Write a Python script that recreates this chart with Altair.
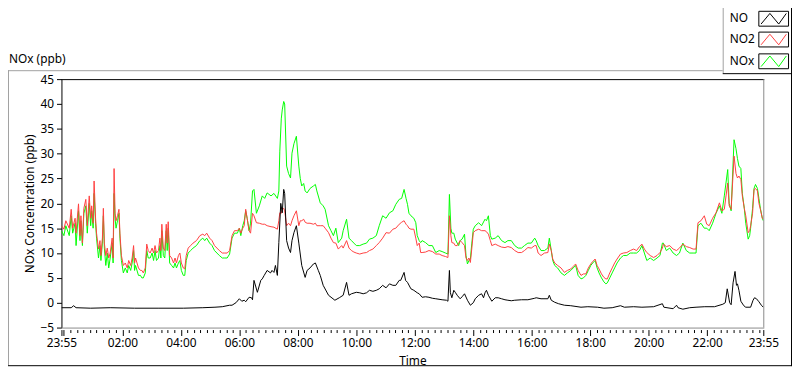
import altair as alt
import pandas as pd

# ---------------- data ----------------
START = pd.Timestamp("2000-01-01 23:55")

# minutes after 23:55 and values (ppb)
NOX_MIN = [0, 5, 9, 16, 20, 23, 28, 30, 35, 38, 40, 43, 46, 50, 53, 57, 60, 62, 65, 67, 70, 72, 76, 79, 81, 84, 86, 88, 91, 94, 97, 100, 104, 106, 108, 110, 112, 115, 118, 120, 123, 127, 131, 135, 138, 142, 145, 148, 150, 152, 158, 162, 165, 168, 172, 175, 178, 182, 186, 189, 192, 195, 199, 202, 204, 206, 209, 212, 215, 217, 219, 222, 226, 230, 233, 236, 240, 243, 246, 250, 253, 256, 260, 265, 270, 277, 284, 290, 294, 298, 304, 309, 314, 319, 324, 330, 334, 340, 345, 350, 355, 361, 365, 368, 372, 375, 378, 381, 385, 388, 392, 395, 400, 406, 412, 417, 422, 430, 436, 443, 446, 448, 451, 453, 456, 458, 462, 466, 470, 473, 477, 482, 487, 490, 493, 497, 500, 504, 510, 517, 521, 524, 531, 537, 541, 548, 553, 558, 563, 568, 575, 578, 585, 590, 595, 600, 605, 612, 619, 626, 632, 639, 646, 652, 659, 666, 673, 680, 686, 693, 698, 703, 707, 710, 713, 717, 723, 727, 730, 734, 737, 740, 747, 754, 761, 768, 775, 781, 788, 793, 796, 799, 801, 805, 808, 812, 815, 818, 822, 827, 830, 833, 836, 839, 842, 845, 849, 856, 862, 869, 872, 876, 880, 883, 890, 896, 903, 910, 916, 923, 930, 937, 944, 950, 957, 964, 971, 974, 978, 984, 991, 998, 1001, 1005, 1008, 1012, 1018, 1025, 1032, 1038, 1045, 1050, 1055, 1060, 1066, 1071, 1076, 1081, 1086, 1090, 1095, 1099, 1103, 1108, 1113, 1117, 1120, 1125, 1130, 1135, 1140, 1147, 1153, 1160, 1167, 1174, 1180, 1186, 1191, 1196, 1201, 1208, 1215, 1222, 1228, 1233, 1235, 1241, 1248, 1255, 1262, 1268, 1275, 1282, 1289, 1296, 1302, 1306, 1312, 1319, 1324, 1329, 1336, 1343, 1350, 1355, 1360, 1367, 1370, 1374, 1380, 1384, 1387, 1390, 1394, 1397, 1401, 1404, 1409, 1412, 1414, 1418, 1421, 1424, 1428, 1431, 1434, 1438, 1440]
NOX_VAL = [14.5, 13.5, 15.5, 13.5, 17.5, 14.0, 16.0, 11.5, 18.5, 12.5, 16.5, 11.5, 18.0, 19.5, 14.0, 20.0, 15.5, 18.5, 15.0, 22.0, 16.0, 13.0, 9.0, 11.5, 8.5, 12.0, 17.5, 11.0, 7.5, 10.0, 7.0, 9.0, 12.0, 8.0, 22.0, 17.0, 15.0, 16.5, 18.0, 13.0, 8.5, 6.0, 7.0, 6.0, 7.5, 6.5, 8.0, 10.5, 6.5, 7.5, 5.5, 5.5, 5.0, 5.0, 6.0, 10.5, 9.0, 9.0, 10.0, 8.5, 10.5, 8.5, 9.0, 11.5, 9.0, 14.5, 9.5, 9.0, 14.5, 10.5, 15.0, 8.0, 7.5, 7.0, 8.0, 7.0, 8.0, 8.5, 6.5, 5.5, 5.5, 8.5, 10.0, 10.5, 11.0, 11.5, 12.5, 13.0, 12.5, 13.0, 12.0, 11.5, 10.5, 10.0, 9.5, 9.0, 9.0, 9.0, 9.8, 13.0, 14.0, 14.0, 15.0, 13.5, 15.5, 16.5, 18.5, 17.0, 14.5, 16.0, 22.5, 22.8, 18.0, 19.5, 21.5, 21.0, 22.1, 21.5, 22.0, 21.0, 22.5, 30.5, 37.0, 38.8, 40.5, 40.0, 27.5, 26.0, 25.1, 30.1, 32.0, 33.5, 27.5, 25.0, 23.5, 24.0, 22.5, 22.1, 23.0, 23.5, 23.8, 22.5, 20.1, 19.5, 18.8, 15.5, 14.5, 13.5, 15.0, 12.1, 13.0, 14.5, 16.8, 13.0, 12.5, 12.0, 11.5, 11.5, 11.8, 12.0, 12.8, 13.0, 13.5, 15.5, 17.5, 17.0, 18.1, 18.5, 19.8, 20.8, 21.0, 22.8, 21.0, 19.8, 18.0, 17.5, 17.0, 16.1, 13.5, 12.5, 12.1, 12.5, 12.1, 11.5, 11.5, 10.1, 10.5, 10.3, 10.0, 9.8, 21.8, 15.0, 14.0, 14.0, 12.8, 12.0, 11.5, 12.5, 12.8, 13.8, 9.5, 7.8, 8.5, 8.8, 12.0, 14.8, 15.5, 16.1, 15.5, 16.8, 16.5, 17.5, 13.5, 12.8, 13.0, 13.5, 12.5, 12.1, 12.5, 12.5, 11.5, 11.0, 11.0, 11.5, 12.0, 12.0, 13.0, 12.5, 11.5, 10.5, 10.5, 11.0, 13.0, 10.5, 8.5, 7.5, 7.0, 6.0, 5.5, 6.0, 6.5, 7.0, 7.5, 5.5, 4.8, 5.0, 5.5, 6.5, 7.5, 8.0, 8.5, 7.0, 6.0, 5.0, 4.2, 3.8, 4.0, 5.0, 6.0, 7.0, 8.0, 9.0, 9.5, 9.5, 10.0, 10.0, 10.0, 10.5, 11.5, 10.0, 8.5, 9.0, 8.5, 9.0, 9.5, 12.0, 12.0, 10.5, 11.0, 10.0, 9.5, 10.0, 12.0, 10.5, 10.0, 10.0, 10.0, 15.5, 16.0, 15.0, 15.0, 14.5, 16.0, 18.0, 19.5, 18.0, 21.5, 26.8, 20.0, 18.5, 32.8, 31.0, 29.0, 27.5, 27.0, 22.0, 19.0, 16.0, 12.8, 13.5, 15.0, 19.0, 23.0, 23.8, 23.0, 21.0, 19.0, 17.0, 16.5]

NO2_MIN = NOX_MIN
NO2_VAL = [15.5, 14.8, 16.5, 15.0, 18.8, 15.0, 17.0, 14.0, 19.9, 13.5, 17.5, 12.0, 19.0, 20.8, 15.5, 21.5, 17.0, 19.5, 16.0, 24.5, 17.0, 14.0, 10.8, 12.5, 9.5, 13.0, 19.0, 12.0, 9.5, 11.0, 9.0, 10.0, 13.0, 9.0, 27.0, 18.0, 16.5, 17.5, 18.8, 14.0, 9.5, 7.5, 8.0, 7.0, 8.5, 7.5, 9.0, 11.5, 8.0, 9.0, 7.0, 6.5, 6.5, 6.0, 7.0, 11.8, 10.5, 10.0, 11.0, 10.0, 11.5, 10.0, 10.5, 13.0, 10.5, 15.8, 11.0, 10.5, 15.8, 12.0, 16.3, 9.5, 9.0, 8.0, 9.0, 8.0, 9.5, 10.0, 8.0, 7.0, 6.8, 9.5, 11.0, 11.5, 12.0, 12.5, 13.5, 13.8, 13.5, 14.0, 13.0, 12.5, 11.5, 11.0, 10.5, 10.0, 10.0, 10.0, 10.5, 13.5, 14.5, 14.5, 15.0, 14.0, 15.0, 15.5, 18.8, 17.0, 14.5, 14.0, 18.0, 17.5, 16.1, 16.0, 15.8, 15.8, 15.5, 15.3, 15.2, 14.8, 16.5, 18.1, 18.0, 18.8, 19.0, 18.5, 15.5, 16.0, 15.5, 16.5, 17.5, 18.5, 15.5, 16.5, 16.5, 16.8, 16.2, 16.0, 16.0, 15.8, 16.0, 15.5, 15.5, 15.5, 15.0, 14.1, 13.0, 12.1, 12.0, 10.8, 11.5, 11.0, 12.5, 11.0, 10.5, 10.2, 10.0, 9.8, 10.0, 10.1, 10.5, 10.8, 11.5, 12.1, 13.0, 14.1, 14.0, 14.8, 15.0, 15.8, 16.2, 16.5, 15.8, 15.5, 15.0, 14.8, 14.8, 13.0, 11.5, 12.0, 10.1, 10.1, 10.2, 10.5, 10.3, 9.8, 9.8, 9.5, 9.3, 9.1, 17.5, 13.5, 12.1, 12.0, 11.5, 11.5, 12.0, 12.5, 12.1, 11.5, 9.0, 8.5, 9.0, 8.1, 11.0, 14.1, 14.5, 14.8, 14.5, 14.5, 14.3, 13.8, 12.5, 11.5, 11.8, 11.5, 11.2, 11.1, 11.3, 11.1, 10.5, 10.1, 10.1, 10.5, 11.1, 11.0, 11.5, 11.5, 10.0, 9.5, 10.0, 10.1, 11.8, 10.5, 8.8, 8.0, 7.5, 7.0, 6.1, 6.5, 6.8, 7.3, 7.8, 6.5, 5.5, 5.8, 5.8, 7.0, 7.8, 8.3, 8.8, 7.5, 6.8, 5.8, 5.1, 4.8, 4.8, 6.0, 7.0, 8.0, 8.8, 9.8, 10.0, 10.1, 10.5, 10.8, 10.5, 11.3, 11.8, 10.8, 10.1, 9.5, 9.1, 9.5, 10.1, 11.0, 11.8, 11.3, 11.5, 10.8, 10.5, 11.0, 11.8, 11.3, 11.1, 10.8, 10.8, 16.1, 16.5, 17.5, 15.8, 15.5, 17.0, 18.1, 20.1, 18.5, 18.8, 24.1, 19.5, 18.8, 29.5, 26.0, 25.1, 25.5, 24.8, 21.5, 19.0, 17.5, 14.1, 14.5, 15.5, 18.0, 22.8, 23.0, 22.5, 20.0, 18.8, 17.0, 16.8]

NO_MIN = [0, 20, 25, 30, 60, 100, 150, 200, 250, 290, 315, 330, 345, 350, 358, 365, 370, 375, 378, 385, 390, 392, 395, 402, 409, 412, 416, 422, 429, 432, 436, 439, 443, 446, 450, 453, 456, 458, 462, 466, 470, 473, 477, 482, 487, 493, 500, 504, 510, 517, 521, 527, 531, 537, 548, 561, 570, 578, 585, 590, 595, 605, 612, 619, 626, 632, 639, 646, 652, 659, 666, 673, 680, 686, 693, 696, 703, 706, 710, 717, 723, 730, 734, 740, 747, 754, 761, 768, 781, 790, 793, 796, 798, 801, 805, 808, 812, 818, 822, 827, 833, 839, 845, 849, 856, 862, 866, 869, 872, 876, 883, 890, 896, 903, 910, 916, 923, 930, 944, 957, 971, 974, 984, 998, 1001, 1005, 1012, 1020, 1032, 1045, 1066, 1080, 1100, 1113, 1130, 1147, 1155, 1174, 1191, 1215, 1233, 1236, 1255, 1262, 1265, 1275, 1289, 1302, 1320, 1340, 1357, 1362, 1366, 1371, 1374, 1378, 1382, 1385, 1387, 1390, 1394, 1400, 1404, 1414, 1419, 1422, 1426, 1431, 1436, 1440]
NO_VAL = [-1.0, -1.0, -0.6, -1.0, -1.1, -1.0, -1.1, -1.1, -1.1, -1.0, -0.9, -0.8, -0.5, -0.5, 0.0, 0.8, 0.3, 0.5, 0.2, 1.1, 1.0, 0.6, 4.5, 2.1, 4.5, 4.8, 5.5, 6.5, 6.0, 6.5, 6.1, 7.5, 5.5, 12.1, 20.0, 18.1, 22.8, 22.0, 12.5, 11.0, 10.1, 12.5, 14.1, 15.5, 12.0, 7.5, 5.1, 6.5, 7.0, 7.8, 8.0, 6.5, 5.5, 3.5, 1.5, 0.5, 1.0, 1.5, 4.1, 1.5, 1.8, 2.1, 2.0, 1.8, 2.0, 2.5, 2.3, 2.5, 2.8, 3.5, 3.0, 3.8, 3.5, 3.5, 4.5, 4.5, 6.1, 4.5, 4.1, 2.8, 2.5, 2.0, 1.8, 1.1, 1.2, 1.1, 0.9, 0.8, 0.6, 0.5, 0.3, 6.5, 2.0, 1.0, 2.5, 2.1, 1.5, 0.8, 1.2, 1.8, 0.5, -0.5, 0.0, 0.8, 1.5, 1.8, 1.0, 2.0, 2.5, 1.5, 0.3, 1.0, 1.0, 0.8, 0.6, 0.5, 0.4, 0.5, 0.6, 0.6, 0.9, 1.0, 0.8, 0.8, 1.5, 0.5, 0.1, -0.2, -0.5, -0.6, -0.9, -0.8, -0.9, -1.1, -1.0, -0.6, -0.9, -0.8, -0.9, -0.8, -0.2, -0.9, -1.2, -0.5, -1.0, -1.3, -1.0, -0.9, -0.8, -0.8, -0.3, 0.0, 2.8, 0.0, -0.4, 4.0, 6.3, 3.5, 3.8, 2.5, 0.3, -0.6, -0.9, -0.9, 0.5, 1.0, 0.8, 0.2, -0.5, -0.9]

SERIES = ["NO", "NO2", "NOx"]
COLORS = ["#000000", "#ff4040", "#00ff00"]
Y_TICKS = [-5, 0, 5, 10, 15, 20, 25, 30, 35, 40, 45]
TITLE = "NOx (ppb)"
Y_TITLE = "NOx Concentration (ppb)"
X_TITLE = "Time"

FONT = "Noto Sans"


def frame(mins, vals):
    return pd.DataFrame({"time": START + pd.to_timedelta(mins, unit="min"), "value": vals})


def dt(ts):
    return alt.DateTime(year=ts.year, month=ts.month, date=ts.day,
                        hours=ts.hour, minutes=ts.minute, seconds=ts.second)


END = START + pd.Timedelta(minutes=1440)
tick_times = [START] + list(pd.date_range(START + pd.Timedelta(minutes=5),
                                          END - pd.Timedelta(minutes=5), freq="800s")) + [END]
MAJOR = ("(hours(datum.value) % 2 == 0 && minutes(datum.value) == 0 && seconds(datum.value) == 0)"
         " || minutes(datum.value) == 55")
LABELED = ("(hours(datum.value) % 2 == 0 && hours(datum.value) > 0 && minutes(datum.value) == 0"
           " && seconds(datum.value) == 0) || minutes(datum.value) == 55")

x_enc = alt.X(
    "time:T",
    scale=alt.Scale(domain=[dt(START), dt(END)], nice=False),
    axis=alt.Axis(
        values=[dt(t) for t in tick_times],
        labelExpr=f"({LABELED}) ? timeFormat(datum.value, '%H:%M') : ''",
        tickSize={"condition": {"test": MAJOR, "value": 6}, "value": 3},
        labelOverlap=False,
        labelFlush=False,
        domain=False,
        offset=2,
        grid=False,
        labelPadding=2,
        titlePadding=7,
        tickColor="#000000",
    ),
    title=X_TITLE,
)
y_enc = alt.Y(
    "value:Q",
    scale=alt.Scale(domain=[-5, 45], nice=False, zero=False),
    axis=alt.Axis(values=Y_TICKS, tickSize=5, labelPadding=3, grid=False, labelFlush=False,
                  domainColor="#000000", tickColor="#000000", titlePadding=4),
    title=Y_TITLE,
)

W, H = 709, 251

lines = []
for mins, vals, col in [(NOX_MIN, NOX_VAL, COLORS[2]), (NO2_MIN, NO2_VAL, COLORS[1]), (NO_MIN, NO_VAL, COLORS[0])]:
    lines.append(
        alt.Chart(frame(mins, vals)).mark_line(color=col, strokeWidth=1, clip=True).encode(x=x_enc, y=y_enc)
    )

one = pd.DataFrame({"k": [0]})


def hrule(x1, x2, y, color):
    return alt.Chart(one).mark_rule(color=color, strokeWidth=1).encode(
        x=alt.value(x1), x2=alt.value(x2), y=alt.value(y))


def vrule(x, y1, y2, color):
    return alt.Chart(one).mark_rule(color=color, strokeWidth=1).encode(
        x=alt.value(x), y=alt.value(y1), y2=alt.value(y2))


decor = [
    # plot frame
    hrule(0, W + 1, 0.5, "#000000"),
    vrule(W + 0.5, 0, H, "#8a8a8a"),
    hrule(0, W + 1, H + 0.5, "#8a8a8a"),
    # outer frame
    hrule(-54, 668, -8.5, "#a0a0a0"),
    vrule(-53.5, -9, 289, "#a0a0a0"),
    hrule(-54, 737.5, 289.5, "#000000"),
    vrule(737.5, -80, 290, "#000000"),
    # legend box
    vrule(668.5, -80, -6, "#a0a0a0"),
    hrule(668, 738, -5.5, "#000000"),
]

title_layer = alt.Chart(pd.DataFrame({"t": [TITLE]})).mark_text(
    align="left", baseline="middle", font=FONT, fontSize=12, color="#000000"
).encode(text="t:N", x=alt.value(-53), y=alt.value(-20))

legend = []
box_tops = [-69, -48, -26]
ZIG = "M-1,0.42L-0.3,-0.42L0.4,0.42L1,-0.42"
for name, col, top in zip(SERIES, COLORS, box_tops):
    d = pd.DataFrame({"name": [name]})
    legend.append(alt.Chart(d).mark_text(align="left", baseline="middle", font=FONT, fontSize=12,
                                         color="#000000").encode(
        text="name:N", x=alt.value(675), y=alt.value(top + 7.5)))
    legend.append(alt.Chart(d).mark_rect(fill="#ffffff", stroke="#000000", strokeWidth=1).encode(
        x=alt.value(704.5), x2=alt.value(734.5), y=alt.value(top + 0.5), y2=alt.value(top + 15.5)))
    legend.append(alt.Chart(d).mark_point(shape=ZIG, filled=False, size=650, strokeWidth=1,
                                          color=col, opacity=1).encode(
        x=alt.value(719.5), y=alt.value(top + 8)))

chart = alt.layer(*decor, *lines, title_layer, *legend).properties(
    width=W,
    height=H,
    autosize=alt.AutoSizeParams(type="none"),
    padding={"left": 54, "top": 70, "right": 29, "bottom": 40},
    background="#ffffff",
).configure_view(stroke=None).configure_axis(
    labelFont=FONT, titleFont=FONT, labelFontSize=12, titleFontSize=12,
    labelColor="#000000", titleColor="#000000", titleFontWeight="normal",
)

chart.save("out.html", embed_options={"renderer": "svg", "actions": False})
